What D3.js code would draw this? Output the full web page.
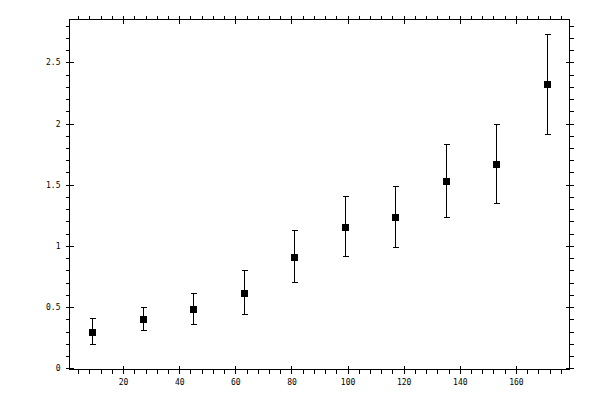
<!DOCTYPE html>
<html lang="en">
<head>
<meta charset="UTF-8">
<title>Error bar chart</title>
<script src="https://d3js.org/d3.v7.min.js"></script>
<style>
  html, body { margin: 0; padding: 0; background: #ffffff; }
  svg text { font-family: "DejaVu Sans Mono", monospace; font-size: 8px; fill: #000; }
</style>
</head>
<body>
<div id="chart"></div>
<script>
// data
const xValues = [9, 27, 45, 63, 81, 99, 117, 135, 153, 171];
const yValues = [0.297, 0.403, 0.485, 0.616, 0.909, 1.154, 1.236, 1.532, 1.671, 2.322];
const yUpper  = [0.403, 0.493, 0.607, 0.803, 1.122, 1.407, 1.489, 1.832, 1.995, 2.724];
const yLower  = [0.193, 0.305, 0.354, 0.436, 0.700, 0.912, 0.983, 1.228, 1.350, 1.913];
const xTickLabels = [20, 40, 60, 80, 100, 120, 140, 160];
const yTickLabels = [0, 0.5, 1, 1.5, 2, 2.5];

const width = 600, height = 400;
const frame = { left: 69.5, right: 569.5, top: 19.5, bottom: 369.5 };

const x = d3.scaleLinear().domain([0.9, 179.1]).range([frame.left, frame.right]);
const y = d3.scaleLinear().domain([-0.01, 2.85]).range([frame.bottom, frame.top]);

const svg = d3.select("#chart").append("svg")
    .attr("width", width)
    .attr("height", height)
    .attr("shape-rendering", "crispEdges");

const xMinor = d3.range(4, 180, 4).filter(v => v % 20 !== 0 && v > 0.9 && v < 179.1);
const yMinor = d3.range(1, 29).map(v => v / 10).filter(v => Math.round(v * 10) % 5 !== 0 && v < 2.85);

// every side: major ticks cross the frame line, minor ticks point outward
function side(axisFn, pos, scale, labelled) {
    const t = axisFn === d3.axisBottom || axisFn === d3.axisTop
        ? `translate(0,${pos})` : `translate(${pos},0)`;
    const majors = labelled ? (scale === x ? xTickLabels : yTickLabels) : (scale === x ? xTickLabels : yTickLabels);
    const minors = scale === x ? xMinor : yMinor;
    const fmt = labelled ? (scale === x ? d3.format("d") : (d => String(d))) : "";
    svg.append("g").attr("transform", t)
        .call(axisFn(scale).tickValues(majors).tickSizeInner(4).tickSizeOuter(0)
            .tickPadding(scale === x ? 6 : 5).tickFormat(fmt))
        .call(g => g.select(".domain").remove());
    svg.append("g").attr("transform", t)
        .call(axisFn(scale).tickValues(majors).tickSize(-4).tickFormat(""))
        .call(g => g.select(".domain").remove());
    svg.append("g").attr("transform", t)
        .call(axisFn(scale).tickValues(minors).tickSize(4).tickFormat(""))
        .call(g => g.select(".domain").remove());
}

side(d3.axisBottom, frame.bottom, x, true);
side(d3.axisTop, frame.top, x, false);
side(d3.axisLeft, frame.left, y, true);
side(d3.axisRight, frame.right, y, false);

svg.selectAll(".tick line").attr("stroke", "#000");
svg.selectAll(".tick text").attr("fill", "#000")
    .style("font-family", "'DejaVu Sans Mono', monospace").style("font-size", "8px");

svg.append("rect")
    .attr("x", frame.left).attr("y", frame.top)
    .attr("width", frame.right - frame.left).attr("height", frame.bottom - frame.top)
    .attr("fill", "none").attr("stroke", "#000");

const points = xValues.map((v, i) => ({ x: v, y: yValues[i], hi: yUpper[i], lo: yLower[i] }));

const bars = svg.append("g").attr("stroke", "#000").attr("stroke-width", 1);
bars.selectAll(".err").data(points).enter().append("line")
    .attr("x1", d => Math.round(x(d.x)) + 0.5).attr("x2", d => Math.round(x(d.x)) + 0.5)
    .attr("y1", d => y(d.hi)).attr("y2", d => y(d.lo));
bars.selectAll(".capHi").data(points).enter().append("line")
    .attr("x1", d => Math.round(x(d.x)) - 2.5).attr("x2", d => Math.round(x(d.x)) + 3.5)
    .attr("y1", d => y(d.hi)).attr("y2", d => y(d.hi));
bars.selectAll(".capLo").data(points).enter().append("line")
    .attr("x1", d => Math.round(x(d.x)) - 2.5).attr("x2", d => Math.round(x(d.x)) + 3.5)
    .attr("y1", d => y(d.lo)).attr("y2", d => y(d.lo));

svg.append("g").selectAll("rect").data(points).enter().append("rect")
    .attr("x", d => Math.round(x(d.x)) - 3)
    .attr("y", d => Math.round(y(d.y)) - 3.5)
    .attr("width", 7).attr("height", 7)
    .attr("fill", "#000");
</script>
</body>
</html>
